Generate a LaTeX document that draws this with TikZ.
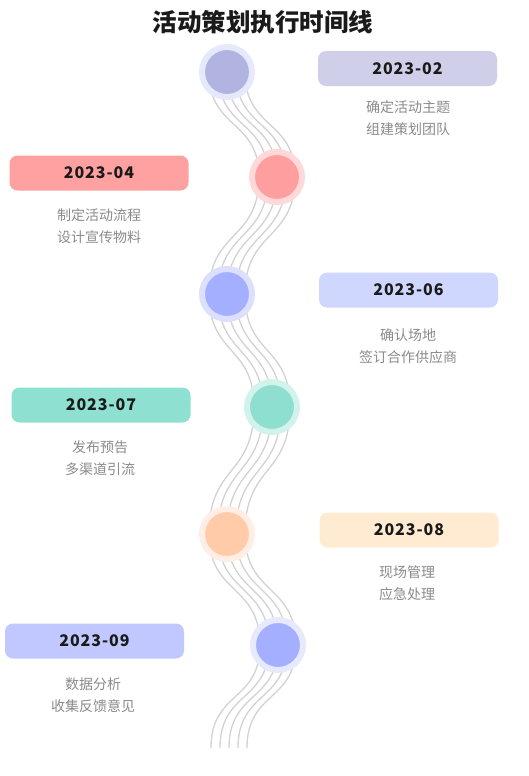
\documentclass[tikz,border=0pt]{standalone}
\usepackage{fontspec}
\setmainfont{Noto Sans CJK SC}
\newfontfamily\datefont[LetterSpace=6]{Noto Sans CJK SC}
\usetikzlibrary{calc}
\definecolor{linegray}{HTML}{D2D2D2}
\definecolor{descgray}{HTML}{8A8A8A}
\definecolor{datetext}{HTML}{1A1A1A}
\definecolor{boxA}{HTML}{CFCFEA}
\definecolor{boxB}{HTML}{FFA1A1}
\definecolor{boxC}{HTML}{D0D7FF}
\definecolor{boxD}{HTML}{8EE0D1}
\definecolor{boxE}{HTML}{FFEBD1}
\definecolor{boxF}{HTML}{C1C8FF}
\definecolor{inA}{HTML}{B1B3E0}
\definecolor{ringA}{HTML}{E6E8FB}
\definecolor{inB}{HTML}{FF9E9E}
\definecolor{ringB}{HTML}{FFD9D9}
\definecolor{inC}{HTML}{A4B0FF}
\definecolor{ringC}{HTML}{DCE0FD}
\definecolor{inD}{HTML}{8EDFD0}
\definecolor{ringD}{HTML}{D2F2EC}
\definecolor{inE}{HTML}{FFCBA9}
\definecolor{ringE}{HTML}{FFEEE5}
\definecolor{inF}{HTML}{A4B0FF}
\definecolor{ringF}{HTML}{E7EAFD}
\begin{document}
\begin{tikzpicture}[x=1pt,y=-1pt,
  datebox/.style={rounded corners=8pt, minimum width=179pt, minimum height=35pt, inner sep=0pt,
    font=\datefont\fontsize{16}{16}\selectfont\bfseries, text=datetext},
  desc/.style={align=center, font=\fontsize{14}{22}\selectfont, text=descgray},
  dot/.style={circle, minimum size=50pt, inner sep=0pt, line width=6pt},
  wave/.style={draw=linegray, line width=1.3pt}]
\useasboundingbox (0,0) rectangle (529,776);

\node[font=\fontsize{24.5}{24.5}\selectfont\bfseries, text=datetext] (title) at (263,22) {活动策划执行时间线};

\coordinate (p1) at (227,72);
\coordinate (p2) at (277,177);
\coordinate (p3) at (227,294);
\coordinate (p4) at (272,407);
\coordinate (p5) at (227,534);
\coordinate (p6) at (278,645);
\coordinate (pend) at (229,748);

\foreach \d in {-18,-9,0,9,18} {
  \draw[wave] ($(p1)+(\d,0)$) .. controls +(0,58) and +(0,-58) .. ($(p2)+(\d,0)$)
    .. controls +(0,64) and +(0,-64) .. ($(p3)+(\d,0)$)
    .. controls +(0,62) and +(0,-62) .. ($(p4)+(\d,0)$)
    .. controls +(0,70) and +(0,-70) .. ($(p5)+(\d,0)$)
    .. controls +(0,61) and +(0,-61) .. ($(p6)+(\d,0)$)
    .. controls +(0,57) and +(0,-57) .. ($(pend)+(\d,0)$);
}

\node[dot, fill=inA, draw=ringA] (c1) at (p1) {};
\node[dot, fill=inB, draw=ringB] (c2) at (p2) {};
\node[dot, fill=inC, draw=ringC] (c3) at (p3) {};
\node[dot, fill=inD, draw=ringD] (c4) at (p4) {};
\node[dot, fill=inE, draw=ringE] (c5) at (p5) {};
\node[dot, fill=inF, draw=ringF] (c6) at (p6) {};

\node[datebox, fill=boxA] (b1) at (407.5,68.5) {2023-02};
\node[desc] (d1) at (408,118) {确定活动主题\\组建策划团队};

\node[datebox, fill=boxB] (b2) at (99,173) {2023-04};
\node[desc] (d2) at (99,226) {制定活动流程\\设计宣传物料};

\node[datebox, fill=boxC] (b3) at (408.5,290) {2023-06};
\node[desc] (d3) at (408,346) {确认场地\\签订合作供应商};

\node[datebox, fill=boxD] (b4) at (101,405) {2023-07};
\node[desc] (d4) at (100,458) {发布预告\\多渠道引流};

\node[datebox, fill=boxE] (b5) at (409,530) {2023-08};
\node[desc] (d5) at (407,583) {现场管理\\应急处理};

\node[datebox, fill=boxF] (b6) at (94.5,641) {2023-09};
\node[desc] (d6) at (93,695) {数据分析\\收集反馈意见};
\end{tikzpicture}
\end{document}
